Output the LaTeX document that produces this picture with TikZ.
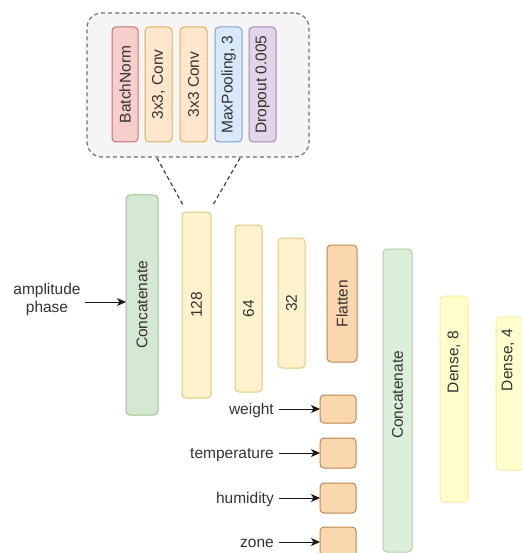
\documentclass[tikz,border=0pt]{standalone}
\usepackage{fontspec}
\setmainfont{Liberation Sans}
\usetikzlibrary{arrows.meta,calc}
\definecolor{txt}{HTML}{333333}
\definecolor{grnF}{HTML}{D5E8D4}\definecolor{grnD}{HTML}{9CC68C}
\definecolor{grnF2}{HTML}{DCEFDA}\definecolor{grnD2}{HTML}{ADD3A0}
\definecolor{ylwF}{HTML}{FFF2CC}\definecolor{ylwD}{HTML}{E2C87A}
\definecolor{orgF}{HTML}{FAD7AC}\definecolor{orgD}{HTML}{BF8650}
\definecolor{dnsF}{HTML}{FFFFCC}\definecolor{dnsD}{HTML}{F3EDA0}
\definecolor{redF}{HTML}{F8CECC}\definecolor{redD}{HTML}{C0716D}
\definecolor{cnvF}{HTML}{FFE6CC}\definecolor{cnvD}{HTML}{DDB050}
\definecolor{bluF}{HTML}{DAE8FC}\definecolor{bluD}{HTML}{7F9FCC}
\definecolor{purF}{HTML}{E1D5E7}\definecolor{purD}{HTML}{A58AB2}
\definecolor{grpF}{HTML}{F5F5F5}\definecolor{grpD}{HTML}{707070}
\tikzset{
  x=1pt, y=-1pt,
  every node/.style={font=\fontsize{15.5}{18}\selectfont, text=txt},
  box/.style={draw, line width=1pt, rounded corners=4pt, inner sep=0pt, outer sep=0pt},
  vtext/.style={rotate=90, inner sep=0pt},
  lbl/.style={inner sep=0pt, anchor=base east},
  arr/.style={draw=black!90, line width=1pt, -{Stealth[length=9pt,width=8pt,inset=2.5pt]}},
  grpdash/.style={draw=grpD, line width=1.2pt, dash pattern=on 4pt off 3pt}
}
\begin{document}
\begin{tikzpicture}
\clip (0,0) rectangle (522,553);
\fill[white] (0,0) rectangle (522,553);

% group box
\node[box, grpdash, fill=grpF, rounded corners=15pt, minimum width=222pt, minimum height=144pt] (grp) at (198,85) {};
\node[box, fill=redF, draw=redD, minimum width=26pt, minimum height=115pt] (bn) at (125,84.5) {};
\node[vtext] at (bn.center) {BatchNorm};
\node[box, fill=cnvF, draw=cnvD, minimum width=27pt, minimum height=115pt] (cv1) at (158.5,84.5) {};
\node[vtext] at (cv1.center) {3x3, Conv};
\node[box, fill=cnvF, draw=cnvD, minimum width=27pt, minimum height=115pt] (cv2) at (193.5,84.5) {};
\node[vtext] at (cv2.center) {3x3 Conv};
\node[box, fill=bluF, draw=bluD, minimum width=27pt, minimum height=115pt] (mp) at (228.5,84.5) {};
\node[vtext] at (mp.center) {MaxPooling, 3};
\node[box, fill=purF, draw=purD, minimum width=27pt, minimum height=115pt] (dp) at (262.5,84.5) {};
\node[vtext] at (dp.center) {Dropout 0.005};

% main column
\node[box, fill=grnF, draw=grnD, minimum width=32pt, minimum height=220pt] (cat1) at (142,305) {};
\node[vtext] at (cat1.center) {Concatenate};
\node[box, fill=ylwF, draw=ylwD, minimum width=29pt, minimum height=186pt] (b128) at (196.5,305) {};
\node[vtext] at (b128.center) {128};
\node[box, fill=ylwF, draw=ylwD, minimum width=27pt, minimum height=167pt] (b64) at (248.5,308.5) {};
\node[vtext] at (b64.center) {64};
\node[box, fill=ylwF, draw=ylwD, minimum width=27pt, minimum height=130pt] (b32) at (291.5,303) {};
\node[vtext] at (b32.center) {32};
\node[box, fill=orgF, draw=orgD, minimum width=30pt, minimum height=117pt] (flat) at (342,303.5) {};
\node[vtext] at (flat.center) {Flatten};

\node[box, fill=grnF2, draw=grnD2, minimum width=29pt, minimum height=303pt] (cat2) at (397.5,400.5) {};
\node[vtext] at (397.5,395) {Concatenate};
\node[box, fill=dnsF, draw=dnsD, minimum width=28pt, minimum height=206pt] (d8) at (454,399) {};
\node[vtext] at (454,362) {Dense, 8};
\node[box, fill=dnsF, draw=dnsD, minimum width=28pt, minimum height=153pt] (d4) at (510,393.5) {};
\node[vtext] at (508,360) {Dense, 4};

% scalar inputs
\node[box, fill=orgF, draw=orgD, minimum width=36pt, minimum height=28pt] (sw) at (338,409) {};
\node[box, fill=orgF, draw=orgD, minimum width=36pt, minimum height=30pt] (st) at (338,453) {};
\node[box, fill=orgF, draw=orgD, minimum width=36pt, minimum height=30pt] (sh) at (338,498) {};
\node[box, fill=orgF, draw=orgD, minimum width=36pt, minimum height=30pt] (sz) at (338,542) {};
\node[lbl] (lw) at (274,414.5) {weight};
\node[lbl] (lt) at (274,458.5) {temperature};
\node[lbl] (lh) at (274,503.5) {humidity};
\node[lbl] (lz) at (274,547.5) {zone};
\draw[arr] (lw.east |- sw.west) ++(5,0) -- (sw.west);
\draw[arr] (lt.east |- st.west) ++(5,0) -- (st.west);
\draw[arr] (lh.east |- sh.west) ++(5,0) -- (sh.west);
\draw[arr] (lz.east |- sz.west) ++(5,0) -- (sz.west);

% amplitude / phase input
\node[align=center, inner sep=0pt] (inp) at (47,299) {amplitude\\phase};
\coordinate (inpA) at (85,302);
\draw[arr] (inpA) -- (cat1.west |- inpA);

% zoom lines
\coordinate (gl) at (157,158);
\coordinate (gr) at (240,158);
\coordinate (tl) at ($(b128.north west)+(1,-7)$);
\coordinate (tr) at ($(b128.north east)+(2,-7)$);
\draw[grpdash, draw=black!75] (gl) -- (tl);
\draw[grpdash, draw=black!75] (gr) -- (tr);
\end{tikzpicture}
\end{document}
